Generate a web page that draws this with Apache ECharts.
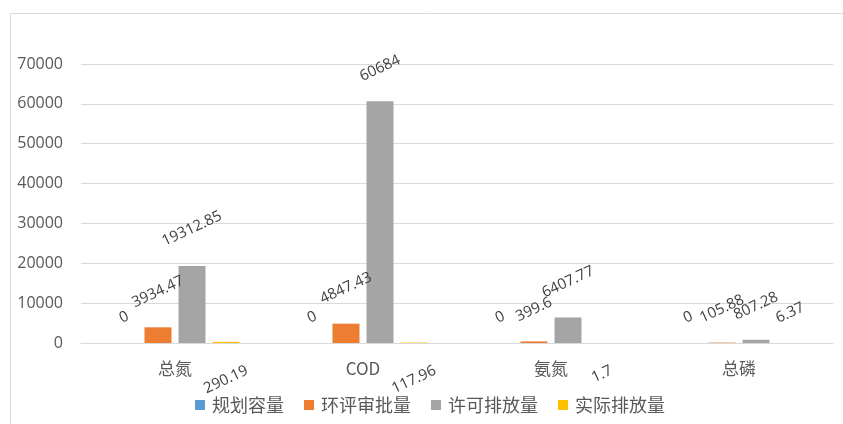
<!DOCTYPE html>
<html><head><meta charset="utf-8">
<script src="https://cdn.jsdelivr.net/npm/echarts@6/dist/echarts.min.js"></script>
<style>html,body{margin:0;padding:0;background:#fff}#c{width:843px;height:424px}</style>
</head><body><div id="c"></div>
<script>
const categories = ['总氮', 'COD', '氨氮', '总磷'];
const seriesNames = ['规划容量', '环评审批量', '许可排放量', '实际排放量'];
const planned = [0, 0, 0, 0];
const eiaApproved = [3934.47, 4847.43, 399.6, 105.88];
const permitted = [19312.85, 60684, 6407.77, 807.28];
const actual = [290.19, 117.96, 1.7, 6.37];
const yTicks = [0, 10000, 20000, 30000, 40000, 50000, 60000, 70000];

const colors = ['#5B9BD5', '#ED7D31', '#A5A5A5', '#FFC000'];
const values = [planned, eiaApproved, permitted, actual];
// which labels of the actual series sit below the axis (as in the reference)
const belowLabel = [true, true, true, false];
const LABEL_ROT = 25;
const LABEL_FONT = 15;
const LABEL_FAMILY = 'Open Sans';

// measure text so the rotated label's bounding box sits a fixed gap from the bar
const ctx = document.createElement('canvas').getContext('2d');
ctx.font = LABEL_FONT + 'px "' + LABEL_FAMILY + '"';
function halfBox(text) {
  const w = ctx.measureText(text).width;
  const r = LABEL_ROT * Math.PI / 180;
  return (w * Math.sin(r) + LABEL_FONT * Math.cos(r)) / 2;
}

function seriesData(i) {
  return values[i].map((v, j) => {
    const below = i === 3 && belowLabel[j];
    return {
      value: v,
      label: {
        position: below ? 'bottom' : 'top',
        distance: (below ? 20 : 17) + halfBox(String(v))
      }
    };
  });
}

const chart = echarts.init(document.getElementById('c'));
chart.setOption({
  animation: false,
  color: colors,
  graphic: [{
    type: 'rect', left: 8, top: 11, silent: true, z: -1,
    shape: {width: 900, height: 500},
    style: {fill: 'none', stroke: '#D9D9D9', lineWidth: 1}
  }],
  grid: {left: 81, right: 10, top: 64, bottom: 81, containLabel: false},
  legend: {
    data: seriesNames, bottom: 5, left: 190,
    itemWidth: 10, itemHeight: 10, itemGap: 20, icon: 'rect',
    textStyle: {color: '#595959', fontSize: 18, fontFamily: 'Noto Sans CJK SC', padding: [0, 0, 0, 2]}
  },
  xAxis: {
    type: 'category', data: categories,
    axisTick: {show: false},
    axisLine: {lineStyle: {color: '#D9D9D9'}},
    axisLabel: {color: '#595959', fontSize: 17, margin: 17, fontFamily: 'Noto Sans CJK SC, Open Sans'}
  },
  yAxis: {
    type: 'value', min: yTicks[0], max: yTicks[yTicks.length - 1], interval: yTicks[1] - yTicks[0],
    axisLine: {show: false}, axisTick: {show: false},
    axisLabel: {color: '#595959', fontSize: 16, margin: 18, fontFamily: 'Open Sans',
      formatter: v => String(v)},
    splitLine: {lineStyle: {color: '#D9D9D9'}}
  },
  series: seriesNames.map((name, i) => ({
    name: name, type: 'bar', data: seriesData(i),
    barWidth: 27, barGap: '26%',
    itemStyle: {color: colors[i]},
    label: {
      show: true, rotate: LABEL_ROT,
      align: 'center', verticalAlign: 'middle',
      color: '#404040', fontSize: LABEL_FONT, fontFamily: LABEL_FAMILY
    }
  }))
});
</script>
</body></html>
